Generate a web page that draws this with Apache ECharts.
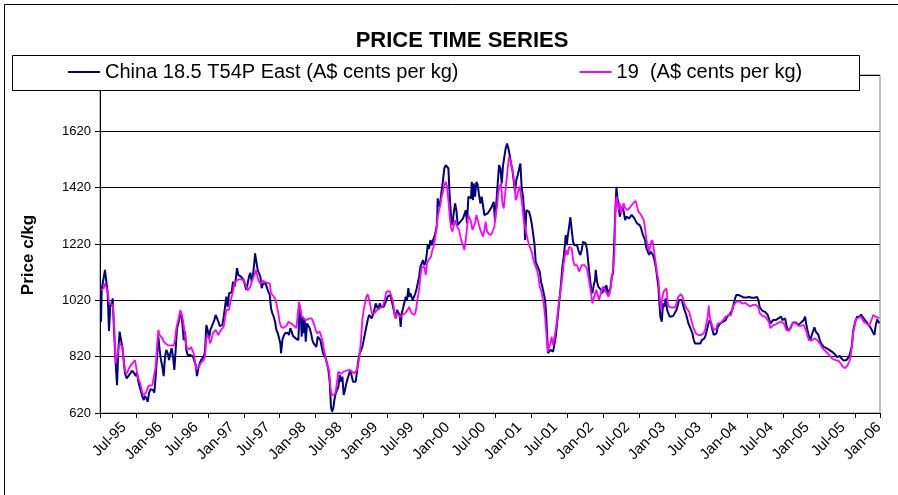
<!DOCTYPE html>
<html><head><meta charset="utf-8">
<script src="https://cdn.jsdelivr.net/npm/echarts@6/dist/echarts.min.js"></script>
<style>html,body{margin:0;padding:0;background:#fff}#c{width:898px;height:495px}</style>
</head><body><div id="c"></div>
<script>
// time in months since Jul-1995
const navyMonths = [0.17,0.28,0.56,0.83,1.06,1.28,1.50,1.73,1.95,2.11,2.39,2.62,2.84,3.06,3.28,3.51,3.73,3.95,4.17,4.45,4.73,5.06,5.40,5.73,5.95,6.18,6.40,6.62,6.84,7.07,7.29,7.51,7.74,7.96,8.18,8.40,8.63,8.85,9.07,9.29,9.52,9.74,9.96,10.18,10.41,10.63,10.85,11.07,11.30,11.52,11.74,11.96,12.19,12.41,12.63,12.85,13.08,13.30,13.52,13.75,13.97,14.19,14.41,14.64,14.86,15.08,15.30,15.53,15.75,15.97,16.19,16.42,16.64,16.86,17.08,17.31,17.53,17.75,17.97,18.20,18.42,18.64,18.86,19.09,19.31,19.53,19.76,19.98,20.20,20.42,20.65,20.87,21.09,21.31,21.54,21.76,21.98,22.20,22.43,22.65,22.87,23.09,23.32,23.54,23.76,23.98,24.21,24.43,24.65,24.87,25.10,25.32,25.54,25.77,
25.88,26.15,26.32,26.54,26.77,26.99,27.21,27.43,27.66,27.88,28.10,28.33,28.55,28.77,28.99,29.22,29.44,29.66,29.88,30.11,30.22,30.44,30.66,30.88,31.11,31.33,31.55,31.77,32.00,32.22,32.44,32.67,32.89,33.11,33.33,33.50,33.67,33.83,34.00,34.17,34.34,34.56,34.78,35.00,35.23,35.45,35.67,35.89,36.12,36.34,36.56,36.78,37.01,37.23,37.45,37.67,37.90,38.12,38.34,38.56,38.73,38.95,39.12,39.34,39.57,39.79,40.01,40.23,40.46,40.68,40.90,41.12,41.35,41.57,41.79,42.01,42.24,42.46,42.68,42.90,43.13,43.35,43.57,43.79,44.02,44.24,44.46,44.69,44.91,45.13,45.35,45.58,45.80,46.02,46.24,46.47,46.69,46.91,47.13,47.36,47.58,47.80,48.02,48.25,48.47,48.69,48.92,49.14,49.36,49.58,49.81,50.03,50.19,50.36,50.58,50.81,51.03,51.25,51.47,51.64,51.81,51.98,52.20,52.42,52.64,52.87,
53.03,53.26,53.48,53.70,53.92,54.15,54.37,54.59,54.70,54.92,55.15,55.37,55.59,55.81,56.04,56.26,56.37,56.59,56.81,57.04,57.26,57.48,57.71,57.93,58.15,58.38,58.60,58.82,59.04,59.27,59.49,59.71,59.93,60.16,60.38,60.60,60.82,61.05,61.27,61.49,61.71,61.94,62.05,62.27,62.38,62.60,62.83,63.05,63.27,63.49,63.72,63.94,64.16,64.39,64.72,65.05,65.39,65.72,65.94,66.17,66.39,66.61,66.83,67.06,67.28,67.50,67.72,67.95,68.17,68.39,68.61,68.84,69.06,69.28,69.50,69.73,69.95,70.17,70.39,70.62,70.84,70.95,71.17,71.40,71.62,71.84,72.06,72.29,72.51,72.73,72.95,73.18,73.40,73.62,73.84,74.07,74.29,74.46,74.62,74.79,74.96,75.18,75.40,75.63,75.85,76.07,76.29,76.52,76.74,76.96,77.18,77.41,77.63,77.74,77.91,78.07,78.30,78.52,78.74,78.96,79.19,79.41,79.63,79.85,
79.97,80.19,80.41,80.63,80.86,81.08,81.30,81.52,81.75,81.97,82.19,82.42,82.64,82.75,82.97,83.19,83.42,83.64,83.86,84.09,84.31,84.53,84.75,84.98,85.20,85.42,85.64,85.87,86.03,86.20,86.37,86.53,86.76,86.98,87.20,87.42,87.65,87.87,88.09,88.31,88.54,88.76,88.98,89.20,89.43,89.65,89.87,90.09,90.32,90.54,90.76,90.98,91.21,91.43,91.65,91.88,92.10,92.32,92.54,92.77,92.99,93.21,93.38,93.54,93.77,93.99,94.21,94.43,94.66,94.88,95.10,95.33,95.66,95.99,96.22,96.44,96.66,96.88,97.11,97.33,97.55,97.77,98.00,98.22,98.44,98.66,98.89,99.11,99.33,99.55,99.78,100.00,100.22,100.45,100.67,100.89,101.11,101.34,101.56,101.78,102.00,102.23,102.45,102.67,102.89,103.12,103.34,103.56,103.78,104.01,104.23,104.45,104.67,104.90,105.12,105.34,105.56,105.79,106.01,106.23,
106.57,106.79,107.01,107.23,107.46,107.68,107.90,108.12,108.35,108.57,108.79,109.01,109.24,109.46,109.68,109.90,110.13,110.35,110.57,110.80,111.02,111.24,111.46,111.69,111.91,112.13,112.35,112.58,112.80,113.02,113.24,113.47,113.69,113.91,114.14,114.36,114.58,114.80,115.03,115.25,115.47,115.69,115.92,116.14,116.36,116.58,116.81,117.03,117.25,117.47,117.70,117.92,118.14,118.36,118.59,118.81,119.03,119.25,119.48,119.70,119.92,120.15,120.37,120.59,120.81,121.04,121.26,121.48,121.70,121.93,122.15,122.37,122.59,122.82,123.04,123.26,123.48,123.71,123.93,124.15,124.37,124.60,124.82,125.04,125.26,125.49,125.71,125.93,126.15,126.38,126.60,126.82,127.04,127.27,127.49,127.71,127.93,128.16,128.38,128.60,128.82,129.05,129.27,129.49,129.72,129.94,130.05];
const navyValues = [944,1057,1063,1128,1130,1045,911,1009,1000,1027,891,796,719,844,909,879,855,808,761,743,751,761,770,761,751,763,731,729,696,678,666,680,672,660,690,704,711,702,692,749,820,891,844,808,784,751,820,844,832,808,832,850,820,773,844,921,938,962,980,938,879,909,844,826,832,826,832,820,826,790,751,779,796,808,814,820,838,932,915,885,915,926,938,950,968,968,944,929,932,932,962,997,1033,997,1045,1051,1048,1086,1068,1092,1134,1110,1107,1104,1098,1092,1074,1057,1055,1104,1118,1086,1110,1157,
1187,1193,1128,1116,1104,1063,1080,1074,1080,1063,1051,1039,992,974,962,944,915,905,903,867,832,879,893,903,897,905,897,921,909,893,891,885,879,879,1003,974,891,962,903,950,873,938,932,921,903,879,867,861,855,891,897,879,855,832,826,814,796,773,731,642,625,637,666,690,684,713,755,731,749,684,702,725,743,749,773,779,731,725,731,767,808,832,838,855,879,903,926,950,968,974,956,950,986,1009,1015,986,1009,997,992,997,1009,1021,1033,1036,1039,1035,997,974,956,986,992,968,926,974,992,997,1033,1021,1063,1033,1045,1045,1021,1027,1045,1063,
1080,1104,1139,1145,1163,1145,1157,1193,1216,1203,1234,1216,1234,1246,1264,1292,1382,1352,1370,1412,1447,1489,1500,1500,1489,1388,1317,1287,1329,1364,1340,1287,1293,1299,1305,1311,1317,1340,1293,1388,1394,1382,1441,1376,1435,1388,1441,1429,1394,1364,1388,1388,1323,1323,1329,1340,1352,1370,1299,1370,1435,1500,1489,1435,1500,1530,1560,1577,1560,1536,1506,1483,1489,1406,1447,1465,1471,1506,1418,1388,1317,1234,1340,1344,1334,1317,1293,1258,1222,1157,1145,1139,1122,1086,1068,1068,1021,974,903,832,838,844,850,838,832,891,938,986,1033,1080,1139,1175,1222,1252,1216,1246,1281,1315,1269,1228,1216,1222,1216,1199,
1190,1181,1199,1228,1228,1222,1199,1151,1104,1063,1045,1074,1092,1128,1086,1068,1063,1057,1045,1068,1051,1074,1045,1039,1063,1104,1116,1246,1341,1423,1382,1370,1317,1335,1352,1335,1305,1317,1311,1311,1317,1323,1317,1311,1305,1293,1293,1287,1276,1258,1258,1234,1205,1205,1181,1193,1187,1181,1163,1139,1104,1068,1009,962,944,1009,997,1027,986,974,962,962,964,968,986,1003,1021,1027,1021,1003,986,974,956,938,932,915,903,879,867,861,867,873,867,879,873,885,897,903,938,950,938,915,897,891,903,926,932,938,938,944,950,950,962,968,971,968,986,1009,1027,1039,
1039,1042,1035,1028,1030,1035,1030,1036,1032,1027,1029,1035,1029,1035,1032,1021,995,991,983,979,979,974,968,962,938,944,950,947,950,952,956,958,962,950,956,956,932,912,909,921,932,941,938,941,938,932,932,941,944,950,962,932,909,891,879,897,891,924,909,909,897,879,867,861,855,855,850,846,844,844,838,834,830,823,818,823,823,815,808,806,811,808,815,820,826,855,909,932,950,962,968,962,970,962,960,950,944,936,929,924,915,905,897,932,952,944,938];

const magMonths = [0.17,0.39,0.61,0.83,1.06,1.28,1.50,1.73,1.95,2.17,2.39,2.62,2.84,3.06,3.28,3.51,3.73,3.95,4.17,4.40,4.62,4.84,5.18,5.51,5.84,6.07,6.29,6.51,6.73,6.96,7.18,7.40,7.62,7.85,8.07,8.40,8.74,9.07,9.29,9.52,9.74,9.96,10.18,10.41,10.63,10.96,11.30,11.63,11.96,12.30,12.52,12.74,12.97,13.19,13.41,13.63,13.86,14.08,14.30,14.52,14.75,14.97,15.19,15.41,15.64,15.86,16.08,16.30,16.53,16.75,16.97,17.31,17.53,17.75,17.97,18.20,18.42,18.64,18.86,19.09,19.31,19.53,19.76,19.98,20.20,20.42,20.65,20.87,21.09,21.31,21.54,21.76,21.98,22.20,22.43,22.65,22.87,23.09,23.32,23.65,23.98,24.21,24.43,24.65,24.87,25.10,25.32,25.54,25.77,25.99,
26.15,26.43,26.77,26.99,27.21,27.43,27.77,28.10,28.33,28.55,28.77,29.10,29.33,29.55,29.77,29.99,30.22,30.44,30.66,30.88,31.22,31.44,31.77,32.11,32.44,32.78,33.00,33.22,33.44,33.67,34.00,34.34,34.67,35.00,35.34,35.56,35.78,36.00,36.23,36.45,36.67,36.89,37.12,37.34,37.56,37.78,38.01,38.23,38.45,38.67,38.90,39.12,39.34,39.57,39.79,40.01,40.23,40.46,40.68,40.90,41.12,41.35,41.57,41.79,42.01,42.24,42.46,42.68,42.90,43.13,43.35,43.57,43.79,44.02,44.24,44.46,44.69,44.91,45.13,45.35,45.58,45.80,46.02,46.24,46.47,46.69,46.91,47.13,47.36,47.58,47.80,48.02,48.36,48.69,48.92,49.14,49.36,49.58,49.81,50.03,50.25,50.47,50.70,50.92,51.14,51.36,51.58,51.81,52.03,52.25,52.48,52.70,
53.03,53.26,53.48,53.70,53.92,54.15,54.37,54.59,54.81,55.04,55.26,55.48,55.70,55.93,56.15,56.37,56.59,56.81,57.04,57.26,57.48,57.71,57.93,58.15,58.38,58.60,58.82,59.04,59.27,59.49,59.71,59.93,60.16,60.38,60.60,60.82,61.05,61.27,61.49,61.71,61.94,62.16,62.38,62.60,62.83,63.05,63.27,63.49,63.72,63.94,64.16,64.39,64.61,64.94,65.28,65.61,65.83,66.06,66.28,66.50,66.72,66.94,67.17,67.39,67.61,67.83,68.06,68.28,68.50,68.73,68.95,69.17,69.39,69.62,69.84,70.06,70.28,70.51,70.73,70.95,71.17,71.40,71.62,71.84,72.06,72.29,72.51,72.73,72.95,73.18,73.40,73.62,73.84,74.07,74.29,74.51,74.73,74.96,75.18,75.40,75.63,75.85,76.07,76.29,76.52,76.74,76.96,77.18,77.41,77.63,77.85,78.07,78.30,78.52,78.74,78.96,79.19,79.41,79.63,79.85,
79.97,80.19,80.41,80.63,80.86,81.08,81.30,81.52,81.75,81.97,82.19,82.42,82.64,82.86,83.08,83.31,83.53,83.75,83.97,84.20,84.42,84.64,84.86,85.09,85.31,85.53,85.75,85.87,86.03,86.20,86.37,86.53,86.76,86.98,87.20,87.42,87.65,87.87,88.09,88.31,88.54,88.76,88.98,89.20,89.43,89.65,89.87,90.09,90.32,90.54,90.76,90.98,91.21,91.43,91.65,91.88,92.10,92.32,92.54,92.77,92.99,93.21,93.43,93.66,93.88,94.10,94.32,94.55,94.77,94.99,95.21,95.55,95.88,96.10,96.33,96.55,96.77,96.99,97.22,97.44,97.66,97.89,98.11,98.33,98.55,98.78,99.00,99.22,99.44,99.67,99.89,100.11,100.33,100.56,100.78,101.00,101.22,101.45,101.61,101.78,102.00,102.23,102.45,102.67,102.89,103.12,103.34,103.56,103.78,104.01,104.23,104.45,104.67,104.90,105.12,105.34,105.56,105.79,106.01,106.23,106.46,
106.79,107.01,107.23,107.46,107.68,107.90,108.12,108.35,108.57,108.79,109.01,109.24,109.46,109.68,109.90,110.13,110.35,110.57,110.80,111.02,111.24,111.46,111.69,111.91,112.13,112.35,112.58,112.80,113.02,113.24,113.47,113.69,113.91,114.14,114.36,114.58,114.80,115.03,115.25,115.47,115.69,115.92,116.14,116.36,116.58,116.81,117.03,117.25,117.47,117.70,117.92,118.14,118.36,118.59,118.81,119.03,119.25,119.48,119.70,119.92,120.15,120.37,120.59,120.81,121.04,121.26,121.48,121.70,121.93,122.15,122.37,122.59,122.82,123.04,123.26,123.48,123.71,123.93,124.15,124.37,124.60,124.82,125.04,125.26,125.49,125.71,125.93,126.15,126.38,126.60,126.82,127.04,127.27,127.49,127.71,127.93,128.16,128.38,128.60,128.82,129.05,129.27,129.49,129.72,129.94,130.05];
const magValues = [1057,1051,1063,1080,1074,1051,1015,1007,1009,1003,915,796,790,844,867,861,855,808,773,758,767,779,790,796,808,779,749,743,725,702,684,678,690,702,716,719,719,719,784,855,915,897,895,885,873,873,861,859,859,859,879,921,926,962,986,983,950,915,873,850,844,846,855,853,832,802,773,773,784,796,802,808,820,885,897,885,867,885,903,909,915,906,897,906,915,921,926,956,986,980,986,1015,1033,1051,1080,1080,1092,1098,1095,1092,1092,1086,1068,1055,1057,1068,1086,1092,1110,1128,
1116,1092,1080,1080,1089,1083,1083,1080,1080,1045,1039,1031,1021,1015,974,944,926,926,922,926,932,944,940,935,928,921,926,1015,1015,962,956,950,956,956,956,950,932,915,903,897,909,903,879,850,826,802,784,773,713,684,678,684,696,731,767,761,759,761,767,769,770,770,773,775,767,763,761,761,773,796,832,879,950,986,1009,1033,1042,1039,1003,974,968,974,980,986,988,992,992,997,1009,1027,1051,1053,1053,1051,1015,974,956,974,968,962,956,968,971,974,974,986,997,992,974,968,968,980,
1027,1057,1104,1139,1133,1139,1110,1151,1163,1157,1175,1199,1210,1216,1270,1317,1340,1358,1388,1406,1429,1441,1424,1376,1317,1276,1264,1270,1305,1287,1281,1270,1246,1228,1216,1199,1234,1240,1323,1323,1299,1270,1264,1293,1323,1317,1287,1270,1264,1246,1270,1299,1264,1255,1252,1249,1281,1329,1352,1406,1424,1435,1364,1346,1394,1441,1489,1530,1518,1494,1471,1435,1376,1388,1412,1424,1388,1352,1305,1281,1258,1234,1216,1205,1193,1169,1151,1139,1128,1104,1068,1057,1057,1009,962,903,838,838,867,891,861,867,915,950,997,1033,1068,1104,1151,1181,1199,1181,1210,1216,1205,1163,1145,1151,1145,1139,
1122,1116,1145,1148,1145,1145,1133,1104,1074,1045,1009,1003,1045,1057,1039,1021,1039,1057,1068,1074,1051,1045,1033,1045,1080,1110,1116,1187,1329,1388,1370,1341,1364,1329,1352,1364,1347,1352,1341,1347,1352,1358,1364,1370,1373,1352,1335,1329,1323,1317,1305,1276,1234,1216,1193,1199,1234,1222,1187,1151,1116,1092,1033,986,1033,1051,1057,1063,1009,997,995,994,992,997,1021,1033,1039,1042,1033,1015,1003,992,986,980,962,944,926,915,903,897,897,903,897,900,903,915,921,962,1001,962,944,926,915,915,921,938,944,938,944,950,956,962,964,968,971,968,992,1003,1009,1015,1021,
1016,1010,1008,1010,1012,1010,1004,1001,998,1001,1004,1010,1004,998,995,974,968,965,968,962,956,950,941,921,924,932,932,934,938,941,944,944,941,938,932,915,909,912,915,932,941,938,938,936,929,926,929,929,932,926,909,891,879,873,877,881,885,881,879,877,867,861,850,846,841,838,832,826,820,818,811,806,808,802,806,802,794,785,779,779,782,790,802,815,855,903,926,952,956,958,956,962,952,944,941,938,936,929,932,952,968,971,962,962,958,956];

const seriesNames = ['China 18.5 T54P East (A$ cents per kg)', '19  (A$ cents per kg)'];
const halfYearNames = ['Jul', 'Jan'];
const startYear = 95;
const yMin = 620, yMax = 1820, yStep = 200;
const xMax = 130.2;

function pair(ms, vs) { return ms.map((m, i) => [m, vs[i]]); }
// label for each half-year period, placed a little after the period's first tick
function tickLabel(v) {
  const m = Math.round(v);
  if (Math.abs(v - m) > 1e-6 || (m - 4) % 6 !== 0 || m < 4) return '';
  const idx = (m - 4) / 6;
  const yr = (startYear + Math.ceil(idx / 2)) % 100;
  return halfYearNames[idx % 2] + '-' + String(yr).padStart(2, '0');
}

const FONT = 'Liberation Sans, Arial, sans-serif';
const chart = echarts.init(document.getElementById('c'), null, {renderer: 'canvas'});
chart.setOption({
  animation: false,
  backgroundColor: '#fff',
  title: {
    text: 'PRICE TIME SERIES', left: 457, top: 25, textAlign: 'center',
    textStyle: {fontFamily: FONT, fontSize: 22, fontWeight: 'bold', color: '#000'}
  },
  legend: {
    z: 20, left: 63, top: 57, itemWidth: 32, itemHeight: 2, icon: 'rect', itemGap: 121,
    textStyle: {fontFamily: FONT, fontSize: 20, color: '#000'},
    data: seriesNames
  },
  graphic: [
    {type: 'rect', z: 0, shape: {x: 4.5, y: 4.5, width: 900, height: 500}, style: {fill: 'none', stroke: '#000', lineWidth: 1}},
    {type: 'rect', z: 10, shape: {x: 12.5, y: 55.5, width: 847, height: 35}, style: {fill: '#fff', stroke: '#000', lineWidth: 1}},
    {type: 'text', z: 10, x: 28, y: 255, rotation: Math.PI / 2,
     style: {text: 'Price c/kg', textAlign: 'center', textVerticalAlign: 'middle', align: 'center', verticalAlign: 'middle',
             font: 'bold 17px Liberation Sans, Arial, sans-serif', fill: '#000'}}
  ],
  grid: {left: 100, right: 18, top: 75, bottom: 82, show: true, borderColor: '#808080', borderWidth: 1},
  xAxis: [
    {type: 'value', min: 0, max: xMax, interval: 6, position: 'bottom',
     axisLine: {lineStyle: {color: '#000'}}, axisTick: {show: true, length: 5, lineStyle: {color: '#000'}},
     axisLabel: {show: false}, splitLine: {show: false}},
    {type: 'value', min: 0, max: xMax, interval: 1, position: 'bottom',
     axisLine: {show: false}, axisTick: {show: false}, splitLine: {show: false},
     axisLabel: {show: true, rotate: 45, margin: 12, formatter: tickLabel, color: '#000', fontFamily: FONT, fontSize: 15}}
  ],
  yAxis: {
    type: 'value', min: yMin, max: yMax, interval: yStep,
    axisLine: {show: true, lineStyle: {color: '#000'}},
    axisTick: {show: true, length: 5, lineStyle: {color: '#000'}},
    axisLabel: {margin: 9, color: '#000', fontFamily: FONT, fontSize: 13, formatter: v => v === yMax ? '' : String(v)},
    splitLine: {show: true, lineStyle: {color: '#000', width: 1}}
  },
  series: [
    {name: seriesNames[0], type: 'line', xAxisIndex: 0, data: pair(navyMonths, navyValues), showSymbol: false, symbol: 'none',
     lineStyle: {color: '#000080', width: 2}, itemStyle: {color: '#000080'}},
    {name: seriesNames[1], type: 'line', xAxisIndex: 0, data: pair(magMonths, magValues), showSymbol: false, symbol: 'none',
     lineStyle: {color: '#FF00FF', width: 1.8}, itemStyle: {color: '#FF00FF'}}
  ]
});
</script></body></html>
